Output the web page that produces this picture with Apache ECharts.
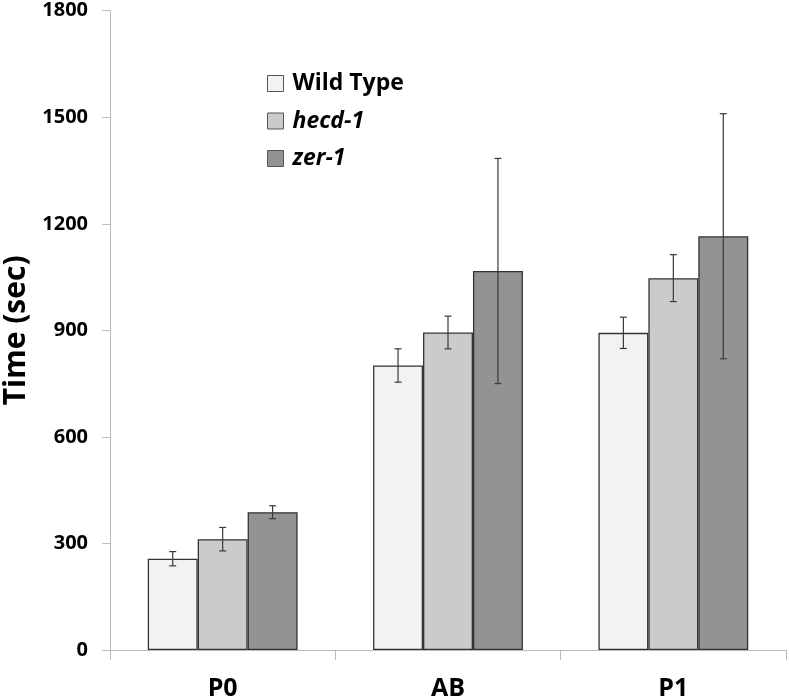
<!DOCTYPE html>
<html><head><meta charset="utf-8">
<script src="https://cdn.jsdelivr.net/npm/echarts@6/dist/echarts.min.js"></script>
<style>html,body{margin:0;padding:0;background:#fff}#c{width:789px;height:699px}</style>
</head><body><div id="c"></div>
<script>
const categories = ['P0', 'AB', 'P1'];
const seriesNames = ['Wild Type', 'hecd-1', 'zer-1'];
const wildType = [257, 801, 893];
const hecd1 = [312, 894, 1047];
const zer1 = [388, 1067, 1165];
const wildTypeErr = [20, 47, 44];
const hecd1Err = [33, 46, 66];
const zer1Err = [18, 317, 345];
const yTicks = [0, 300, 600, 900, 1200, 1500, 1800];

const values = [wildType, hecd1, zer1];
const errs = [wildTypeErr, hecd1Err, zer1Err];
const colors = ['#f2f2f2', '#cbcbcb', '#939393'];
const GAP = 0.335;
const FONT = '"Open Sans", Lato, sans-serif';

const errData = [];
values.forEach((arr, s) => arr.forEach((v, i) => errData.push([i, v - errs[s][i], v + errs[s][i], s])));

const chart = echarts.init(document.getElementById('c'), null, {renderer: 'canvas'});
const barSeries = seriesNames.map((n, s) => ({
  name: n, type: 'bar', data: values[s],
  barGap: '0%', barCategoryGap: (GAP * 100) + '%',
  itemStyle: {color: colors[s], borderColor: '#333', borderWidth: 1.3},
  emphasis: {disabled: true}
}));
const errSeries = {
  type: 'custom', z: 10, silent: true,
  data: errData,
  encode: {x: 0, y: [1, 2]},
  renderItem: function (params, api) {
    const ci = api.value(0), lo = api.value(1), hi = api.value(2), s = api.value(3);
    const cw = api.size([1, 0])[0];
    const bw = cw * (1 - GAP) / 3;
    const p1 = api.coord([ci, hi]);
    const p0 = api.coord([ci, lo]);
    const x = p1[0] + (s - 1) * bw;
    const cap = 3.5;
    const st = {stroke: '#3a3a3a', lineWidth: 1.2};
    return {type: 'group', children: [
      {type: 'line', shape: {x1: x, y1: p1[1], x2: x, y2: p0[1]}, style: st},
      {type: 'line', shape: {x1: x - cap, y1: p1[1], x2: x + cap, y2: p1[1]}, style: st},
      {type: 'line', shape: {x1: x - cap, y1: p0[1], x2: x + cap, y2: p0[1]}, style: st}
    ]};
  }
};

chart.setOption({
  animation: false,
  backgroundColor: '#fff',
  grid: {left: 110, right: 3, top: 10.7, bottom: 49, containLabel: false, outerBoundsMode: 'none'},
  legend: {
    orient: 'vertical', left: 262, top: 67,
    itemWidth: 16, itemHeight: 16, itemGap: 14.5,
    icon: 'rect',
    data: seriesNames.map((n, s) => ({name: n, itemStyle: {color: colors[s], borderColor: '#555', borderWidth: 1}})),
    formatter: function (n) { return n === 'Wild Type' ? '{b|' + n + '}' : '{i|' + n + '}'; },
    textStyle: {
      padding: [0, 0, 0, 4],
      rich: {
        b: {fontFamily: FONT, fontWeight: 'bold', fontSize: 23, lineHeight: 24, color: '#000'},
        i: {fontFamily: FONT, fontWeight: 'bold', fontStyle: 'italic', fontSize: 23, lineHeight: 24, color: '#000'}
      }
    }
  },
  xAxis: {
    type: 'category', data: categories,
    axisLine: {lineStyle: {color: '#bbb', width: 1}},
    axisTick: {show: true, length: 10, lineStyle: {color: '#bbb'}},
    axisLabel: {margin: 26, fontFamily: FONT, fontWeight: 'bold', fontSize: 25, color: '#000'}
  },
  yAxis: {
    type: 'value', min: 0, max: 1800, interval: 300,
    name: 'Time (sec)', nameLocation: 'middle', nameGap: 76, nameRotate: 90,
    nameTextStyle: {fontFamily: FONT, fontWeight: 'bold', fontSize: 30, color: '#000'},
    axisLine: {show: true, lineStyle: {color: '#bbb', width: 1}},
    axisTick: {show: true, length: 8, lineStyle: {color: '#bbb'}},
    splitLine: {show: false},
    axisLabel: {margin: 22, fontFamily: FONT, fontWeight: 'bold', fontSize: 20, color: '#000',
      formatter: function (v) { return yTicks.indexOf(v) >= 0 ? String(v) : ''; }}
  },
  series: barSeries.concat([errSeries])
});
</script></body></html>
